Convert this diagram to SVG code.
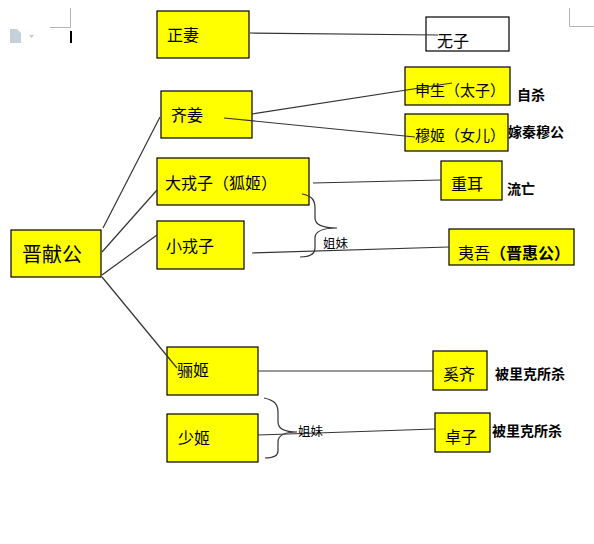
<svg xmlns="http://www.w3.org/2000/svg" width="594" height="544" viewBox="0 0 594 544">
<style>
.box{fill:#ffff00;stroke:#000;stroke-width:1.2}
.wbox{fill:#fff;stroke:#000;stroke-width:1.2}
.t{font-family:"Noto Sans CJK SC","Noto Sans",sans-serif;font-size:16px;fill:#000;dominant-baseline:central}
.b{font-family:"Noto Sans CJK SC","Noto Sans",sans-serif;font-size:14px;font-weight:bold;fill:#000;dominant-baseline:central}
.s{font-family:"Noto Sans CJK SC","Noto Sans",sans-serif;font-size:12.5px;fill:#000;dominant-baseline:central}
.c{fill:none;stroke:#333;stroke-width:1.2}
.m{fill:none;stroke:#b4b4b4;stroke-width:1}
</style>
<rect width="594" height="544" fill="#fff"/>
<g id="page-marks">
<path class="m" d="M70.5 8V27.5H50"/>
<path class="m" d="M569.5 8V26.5H594"/>
<rect x="70" y="31" width="2" height="12" fill="#000"/>
<g fill="#c4d0dc"><path d="M10 29h7l4 4v10H10z"/></g>
<path d="M29 35h5l-2.5 3z" fill="#c8c8c8"/>
</g>
<g id="n-zhengqi"><rect class="box" x="157" y="11" width="92" height="47"/><text class="t" x="167" y="34">正妻</text></g>
<g id="n-wuzi"><rect class="wbox" x="426" y="17" width="83" height="34"/><text class="t" x="437" y="40">无子</text></g>
<g id="n-qijiang"><rect class="box" x="161" y="91" width="91" height="47"/><text class="t" x="171" y="114">齐姜</text></g>
<g id="n-shensheng"><rect class="box" x="405" y="67" width="105" height="38"/><text class="t" x="415" y="89" style="font-size:15px">申生（太子）</text></g>
<g id="n-muji"><rect class="box" x="405" y="114" width="103" height="37"/><text class="t" x="415" y="134" style="font-size:15px">穆姬（女儿）</text></g>
<g id="n-dazhongzi"><rect class="box" x="157" y="158" width="152" height="47"/><text class="t" x="165" y="182">大戎子（狐姬）</text></g>
<g id="n-xiaorongzi"><rect class="box" x="157" y="221" width="87" height="48"/><text class="t" x="166" y="245">小戎子</text></g>
<g id="n-jinxiangong"><rect class="box" x="11" y="230" width="90" height="47"/><text class="t" x="22" y="253" style="font-size:20px">晋献公</text></g>
<g id="n-chonger"><rect class="box" x="441" y="161" width="61" height="39"/><text class="t" x="451" y="183">重耳</text></g>
<g id="n-yiwu"><rect class="box" x="449" y="229" width="125" height="36"/><text class="t" x="458" y="252">夷吾<tspan font-weight="bold">（晋惠公）</tspan></text></g>
<g id="n-liji"><rect class="box" x="167" y="347" width="91" height="48"/><text class="t" x="177" y="369">骊姬</text></g>
<g id="n-shaoji"><rect class="box" x="167" y="414" width="91" height="48"/><text class="t" x="178" y="437">少姬</text></g>
<g id="n-xiqi"><rect class="box" x="433" y="351" width="54" height="39"/><text class="t" x="443" y="373">奚齐</text></g>
<g id="n-zhuozi"><rect class="box" x="435" y="413" width="55" height="39"/><text class="t" x="445" y="436">卓子</text></g>
<g id="connectors">
<line class="c" x1="250" y1="33" x2="438" y2="35"/>
<line class="c" x1="103" y1="228" x2="160" y2="117"/>
<line class="c" x1="102" y1="252" x2="157" y2="190"/>
<line class="c" x1="102" y1="275" x2="157" y2="235"/>
<line class="c" x1="102" y1="277" x2="177" y2="368"/>
<line class="c" x1="252" y1="114" x2="452" y2="83"/>
<line class="c" x1="224" y1="118" x2="415" y2="137"/>
<line class="c" x1="313" y1="183" x2="441" y2="180"/>
<line class="c" x1="252" y1="253" x2="449" y2="247"/>
<line class="c" x1="258" y1="371" x2="433" y2="371"/>
<line class="c" x1="258" y1="435" x2="435" y2="429"/>
<path class="c" d="M302 194C312 196 315 200 315 208V218C315 225 322 228 337 228C322 228 315 231 315 238V248C315 254 310 257 300 257"/>
<path class="c" d="M264 398C274 400 278 404 278 412V422C278 429 284 432 297 432C284 432 278 435 278 442V451C278 456 273 458 265 458"/>
</g>
<g id="labels">
<text class="b" x="517" y="94">自杀</text>
<text class="b" x="508" y="131">嫁秦穆公</text>
<text class="b" x="507" y="188">流亡</text>
<text class="b" x="495" y="373">被里克所杀</text>
<text class="b" x="492" y="430">被里克所杀</text>
<text class="s" x="323" y="242">姐妹</text>
<text class="s" x="298" y="430">姐妹</text>
</g>
</svg>
